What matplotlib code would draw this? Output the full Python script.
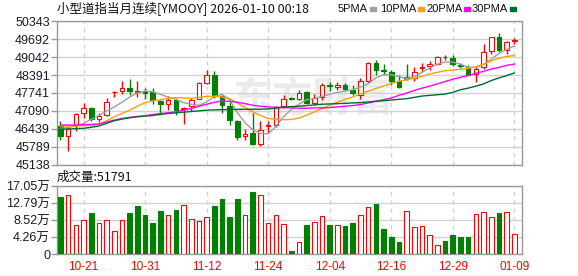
import matplotlib.pyplot as plt
from matplotlib.patches import Rectangle
import numpy as np

plt.rcParams['font.family'] = ['Liberation Sans', 'Noto Sans CJK SC']

# daily bars, oldest first
opens = [46555, 46184, 46567, 47009, 47200, 46806, 46937, 47762, 47798, 47917,
         47762, 47798, 47762, 47451, 47332, 47475, 47164, 47260, 47535, 48096,
         48407, 47630, 47272, 46734, 46184, 46280, 45874, 46543, 46579, 47260,
         47559, 47535, 47774, 47379, 47594, 48025, 47965, 48049, 47858, 47654,
         48192, 48825, 48574, 48515, 48192, 48312, 48288, 48646, 48730, 48790,
         49064, 49028, 48766, 48694, 48431, 48694, 49268, 49769, 49303, 49626]
highs = [46722, 46519, 46997, 47379, 47236, 47009, 47559, 47822, 48168, 48240,
         48192, 47917, 47917, 47475, 47618, 47535, 47236, 47559, 48132, 48574,
         48538, 47678, 47403, 46758, 46447, 46997, 46710, 46734, 47284, 47666,
         47594, 47834, 47810, 47690, 48096, 48156, 48156, 48096, 48013, 48276,
         48873, 48945, 48778, 48586, 48407, 48778, 48670, 48813, 48885, 49100,
         49112, 49112, 48825, 48742, 48670, 49507, 49781, 49925, 49626, 49722]
lows = [46041, 45647, 46352, 46842, 46710, 46686, 46901, 47594, 47714, 47666,
        47594, 47522, 47332, 47021, 47116, 46937, 46603, 47093, 47511, 48072,
        47571, 46997, 46579, 46029, 46029, 45862, 45802, 46280, 46519, 47212,
        47499, 47499, 47332, 47296, 47475, 47810, 47858, 47834, 47654, 47535,
        48132, 48395, 48407, 48013, 47929, 48216, 48192, 48515, 48586, 48766,
        48933, 48706, 48634, 48395, 48156, 48610, 49172, 49232, 49148, 49507]
closes = [46184, 46423, 46973, 47200, 46794, 46913, 47403, 47786, 47917, 47822,
          47798, 47750, 47499, 47355, 47487, 47140, 47212, 47475, 48096, 48407,
          47618, 47308, 46746, 46160, 46268, 45898, 46399, 46567, 47236, 47523,
          47535, 47750, 47379, 47571, 48049, 48001, 48037, 47893, 47738, 48192,
          48825, 48574, 48527, 48168, 47953, 48264, 48515, 48694, 48790, 49052,
          49040, 48790, 48730, 48407, 48610, 49232, 49769, 49291, 49590, 49662]

ma5 = [46459, 46483, 46543, 46639, 46782, 46925, 47081, 47236, 47403, 47594,
       47738, 47810, 47786, 47690, 47594, 47511, 47391, 47332, 47296, 47415,
       47618, 47690, 47499, 47021, 46662, 46400, 46280, 46256, 46519, 46878,
       47140, 47332, 47499, 47535, 47618, 47690, 47762, 47810, 47858, 47953,
       48072, 48288, 48407, 48407, 48335, 48264, 48335, 48491, 48646, 48790,
       48861, 48861, 48790, 48670, 48670, 48766, 48969, 49172, 49327, 49447]
ma10 = [46543, 46543, 46543, 46555, 46555, 46603, 46734, 46878, 46997, 47117,
        47260, 47391, 47451, 47499, 47535, 47571, 47559, 47547, 47583, 47618,
        47618, 47594, 47535, 47379, 47212, 47057, 46925, 46818, 46782, 46770,
        46782, 46830, 46937, 47057, 47176, 47296, 47403, 47511, 47594, 47714,
        47810, 47905, 47989, 48084, 48168, 48216, 48276, 48347, 48431, 48491,
        48551, 48574, 48598, 48634, 48694, 48790, 48909, 49005, 49064, 49100]
ma20 = [46579, 46579, 46579, 46591, 46603, 46615, 46686, 46758, 46818, 46854,
        46889, 46913, 46961, 46997, 47021, 47057, 47117, 47176, 47260, 47332,
        47403, 47451, 47439, 47403, 47355, 47296, 47260, 47236, 47224, 47212,
        47200, 47188, 47188, 47200, 47200, 47212, 47236, 47260, 47284, 47320,
        47379, 47439, 47499, 47559, 47654, 47738, 47834, 47917, 47989, 48072,
        48156, 48240, 48312, 48371, 48455, 48527, 48610, 48670, 48742, 48790]
ma30 = [46423, 46435, 46447, 46459, 46495, 46543, 46639, 46734, 46794, 46842,
        46878, 46901, 46925, 46961, 46997, 47021, 47045, 47069, 47093, 47117,
        47128, 47136, 47140, 47145, 47148, 47152, 47152, 47164, 47188, 47224,
        47248, 47260, 47284, 47308, 47332, 47343, 47355, 47367, 47379, 47391,
        47415, 47439, 47463, 47487, 47511, 47535, 47583, 47630, 47654, 47678,
        47702, 47762, 47858, 47917, 47989, 48072, 48192, 48288, 48371, 48467]

# volume in 万, and the colour each volume bar is drawn in
vol = [14.2, 14.8, 7.2, 8.6, 10.4, 7.7, 8.6, 5.9, 8.6, 10.2,
       12.1, 9.7, 7.7, 10.9, 9.9, 11.1, 12.4, 8.9, 8.4, 9.4,
       12.1, 13.8, 9.4, 13.8, 9.9, 15.6, 14.8, 7.9, 9.7, 7.5,
       0.9, 2.95, 7.37, 8.03, 9.5, 7.37, 7.3, 7.1, 7.9, 9.75,
       11.7, 12.5, 6.4, 4.4, 2.95, 10.7, 6.8, 7.05, 4.8, 2.4,
       3.4, 4.9, 4.2, 4.4, 10.1, 10.5, 9.3, 10.3, 10.5, 5.1791]
vol_dir = list("GRRRGRRRRG" "GGGGRGRRRR" "GGGGRGRRRR"
               "GRGRRGRGGR" "RGGGGRRRRR" "GGGGRRRGRR")

date_pos = [3, 11, 19, 27, 35, 43, 51, 59]
date_labels = ['10-21', '10-31', '11-12', '11-24', '12-04', '12-16', '12-29', '01-09']
price_ticks = [45138, 45789, 46439, 47090, 47741, 48391, 49042, 49692, 50343]
vol_ticks = [0, 4.26, 8.52, 12.79, 17.05]
vol_tick_labels = ['0', '4.26万', '8.52万', '12.79万', '17.05万']

RED = '#ff0000'
GREEN = '#008000'
FRAME = '#999999'
GRID = '#d2d2d2'
ma_colors = ['#a0a0a0', '#f5a300', '#ff00ff', '#006b30']

W, H = 578, 276
fig = plt.figure(figsize=(W / 100, H / 100), dpi=100)


def box(l, t, r, b):
    return [l / W, 1 - b / H, (r - l) / W, (b - t) / H]


ax = fig.add_axes(box(57, 21.3, 522, 164.7))
axv = fig.add_axes(box(57, 186, 522, 254.3), sharex=ax)

x = np.arange(len(closes))
o, h, l, c = map(np.array, (opens, highs, lows, closes))
up = c >= o
col = np.where(up, RED, GREEN)
face = np.where(up, 'white', GREEN)

ax.vlines(x, l, h, colors=col, lw=1, zorder=2)
ax.bar(x, np.maximum(np.abs(c - o), 8), bottom=np.minimum(o, c), width=0.6,
       color=face, edgecolor=col, linewidth=0.8, zorder=3)
for ma, mc in zip([ma5, ma10, ma20, ma30], ma_colors):
    ax.plot(x, ma, color=mc, lw=1, zorder=4)

# faint site watermark
ax.text(0.55, 0.45, '东方财富', transform=ax.transAxes, fontsize=29,
        color='#ebebeb', ha='center', va='center', zorder=0.5,
        family=['Noto Sans CJK SC'], fontweight='bold')

vc = [RED if d == 'R' else GREEN for d in vol_dir]
vf = ['white' if d == 'R' else GREEN for d in vol_dir]
axv.bar(x, vol, width=0.6, color=vf, edgecolor=vc, linewidth=0.8, zorder=3)

ax.set_xlim(-0.45, 60.0)
ax.set_ylim(price_ticks[0], price_ticks[-1])
axv.set_ylim(0, vol_ticks[-1])

ax.set_yticks(price_ticks)
ax.set_yticklabels([str(v) for v in price_ticks])
axv.set_yticks(vol_ticks)
axv.set_yticklabels(vol_tick_labels)
axv.set_xticks(date_pos)
axv.set_xticklabels(date_labels)

for a in (ax, axv):
    for s in a.spines.values():
        s.set_color(FRAME)
        s.set_linewidth(1)
    a.grid(axis='y', color=GRID, lw=1, zorder=0)
    a.grid(axis='x', color=GRID, lw=1, ls=(0, (3, 3)), zorder=0)
    a.set_axisbelow(True)
    a.tick_params(axis='y', length=4, width=1, color=FRAME, labelsize=9,
                  labelcolor='#1a1a2e', pad=1)
ax.tick_params(axis='x', length=0, labelbottom=False)
axv.tick_params(axis='x', length=0, labelsize=8.5, labelcolor=RED, pad=5)

fig.text(57 / W, 1 - 9 / H, '小型道指当月连续[YMOOY] 2026-01-10 00:18',
         fontsize=9, ha='left', va='center', color='#111111',
         family=['Noto Sans CJK SC'])
fig.text(57 / W, 1 - 177 / H, '成交量:51791', fontsize=9, ha='left',
         va='center', color='#111111', family=['Noto Sans CJK SC'])

legend_x = [338, 380, 426, 472]
for lx, name, mc in zip(legend_x, ['5PMA', '10PMA', '20PMA', '30PMA'], ma_colors):
    t = fig.text(lx / W, 1 - 9 / H, name, fontsize=8, ha='left', va='center',
                 color='#111111')
    fig.canvas.draw()
    bb = t.get_window_extent()
    fig.patches.append(Rectangle(((bb.x1 + 2) / W, 1 - 10.5 / H), 6 / W, 3.5 / H,
                                 transform=fig.transFigure, color=mc))

fig.savefig('out.png', dpi=100)
